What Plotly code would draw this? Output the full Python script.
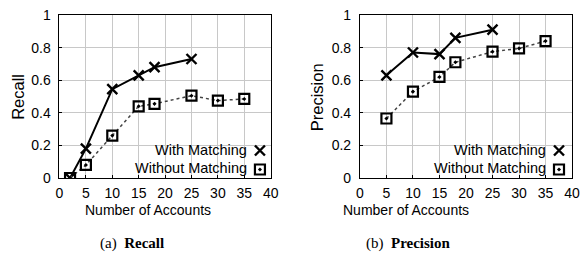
import plotly.graph_objects as go

# Data
recall_with_x = [2, 5, 10, 15, 18, 25]
recall_with_y = [0.0, 0.18, 0.545, 0.63, 0.68, 0.73]
recall_without_x = [2, 5, 10, 15, 18, 25, 30, 35]
recall_without_y = [0.0, 0.08, 0.26, 0.44, 0.455, 0.505, 0.475, 0.485]

prec_with_x = [5, 10, 15, 18, 25]
prec_with_y = [0.63, 0.77, 0.76, 0.86, 0.91]
prec_without_x = [5, 10, 15, 18, 25, 30, 35]
prec_without_y = [0.365, 0.53, 0.62, 0.71, 0.775, 0.795, 0.84]

x_ticks = [0, 5, 10, 15, 20, 25, 30, 35, 40]
y_ticks = [0, 0.2, 0.4, 0.6, 0.8, 1]
y_tick_labels = ["0", "0.2", "0.4", "0.6", "0.8", "1"]

series_names = ["With Matching", "Without Matching"]
y_titles = ["Recall", "Precision"]
x_title = "Number of Accounts"
captions = ["(a)  <b>Recall</b>", "(b)  <b>Precision</b>"]

W, H = 587, 260
FONT = "Liberation Sans"

fig = go.Figure()

x_dom = [(60 / W, 273 / W), (363 / W, 577 / W)]
y_dom = ((H - 178) / H, (H - 15) / H)

with_line = dict(color="black", width=2)
with_marker = dict(symbol="x-thin-open", size=10, color="black",
                   line=dict(color="black", width=2.4))
without_line = dict(color="#444444", width=1.5, dash="dot")
without_marker = dict(symbol="square-open-dot", size=10, color="black",
                      line=dict(color="black", width=2.2))

panels = [
    (recall_with_x, recall_with_y, recall_without_x, recall_without_y),
    (prec_with_x, prec_with_y, prec_without_x, prec_without_y),
]

for i, (wx, wy, ox, oy) in enumerate(panels):
    sfx = "" if i == 0 else "2"
    leg = "legend" if i == 0 else "legend2"
    fig.add_trace(go.Scatter(x=wx, y=wy, mode="lines+markers", line=with_line,
                             marker=with_marker, showlegend=False,
                             xaxis="x" + sfx, yaxis="y" + sfx))
    fig.add_trace(go.Scatter(x=ox, y=oy, mode="lines+markers", line=without_line,
                             marker=without_marker, showlegend=False,
                             xaxis="x" + sfx, yaxis="y" + sfx))
    # legend keys (symbol only; text drawn as annotations)
    fig.add_trace(go.Scatter(x=[None], y=[None], mode="markers", marker=with_marker,
                             name=" ", legend=leg, xaxis="x" + sfx, yaxis="y" + sfx))
    fig.add_trace(go.Scatter(x=[None], y=[None], mode="markers", marker=without_marker,
                             name=" ", legend=leg, xaxis="x" + sfx, yaxis="y" + sfx))

axis_common = dict(showline=True, linecolor="black", linewidth=1, mirror=True,
                   showgrid=True, gridcolor="#c8c8c8", gridwidth=1,
                   ticks="inside", ticklen=3, tickcolor="black", automargin=False,
                   zeroline=False, tickfont=dict(family=FONT, size=14, color="black"))

for i in range(2):
    sfx = "" if i == 0 else "2"
    fig.update_layout(**{
        "xaxis" + sfx: dict(domain=x_dom[i], range=[0, 40], tickvals=x_ticks,
                            anchor="y" + sfx, ticklabelstandoff=2, **axis_common),
        "yaxis" + sfx: dict(domain=y_dom, range=[0, 1], tickvals=y_ticks,
                            ticktext=y_tick_labels, anchor="x" + sfx,
                            ticklabelstandoff=5, **axis_common),
    })

legend_marker_px = [262, 564]
for i in range(2):
    key = "legend" if i == 0 else "legend2"
    fig.update_layout(**{key: dict(
        x=(legend_marker_px[i] - 20) / W, y=(H - 136) / H, xanchor="left", yanchor="top",
        bgcolor="rgba(0,0,0,0)", borderwidth=0, itemwidth=30,
        tracegroupgap=0, font=dict(family=FONT, size=8))})

annotations = []
text_right_px = [251, 553]
for i in range(2):
    for j, name in enumerate(series_names):
        annotations.append(dict(
            x=text_right_px[i] / W, y=(H - 150 - 18 * j) / H, xref="paper", yref="paper",
            text=name, showarrow=False, xanchor="right", yanchor="middle",
            font=dict(family=FONT, size=14.5, color="black")))
# x titles
for cx in [149, 409]:
    annotations.append(dict(x=cx / W, y=(H - 210) / H, xref="paper", yref="paper",
                            text=x_title, showarrow=False, xanchor="center",
                            yanchor="middle", font=dict(family=FONT, size=14, color="black")))
# y titles
for cx, t in zip([18, 320], y_titles):
    annotations.append(dict(x=cx / W, y=(H - 97) / H, xref="paper", yref="paper",
                            text=t, textangle=-90, showarrow=False, xanchor="center",
                            yanchor="middle", font=dict(family=FONT, size=16.5, color="black")))
# captions
for cx, t in zip([133, 412], captions):
    annotations.append(dict(x=cx / W, y=(H - 243) / H, xref="paper", yref="paper",
                            text=t, showarrow=False, xanchor="center", yanchor="middle",
                            font=dict(family="Liberation Serif", size=15, color="black")))

fig.update_layout(width=W, height=H, margin=dict(l=0, r=0, t=0, b=0),
                  paper_bgcolor="white", plot_bgcolor="white",
                  annotations=annotations, showlegend=True)

fig.write_html("out.html", config={"displayModeBar": False},
               post_script="document.body.style.margin='0';document.body.style.overflow='hidden';")
